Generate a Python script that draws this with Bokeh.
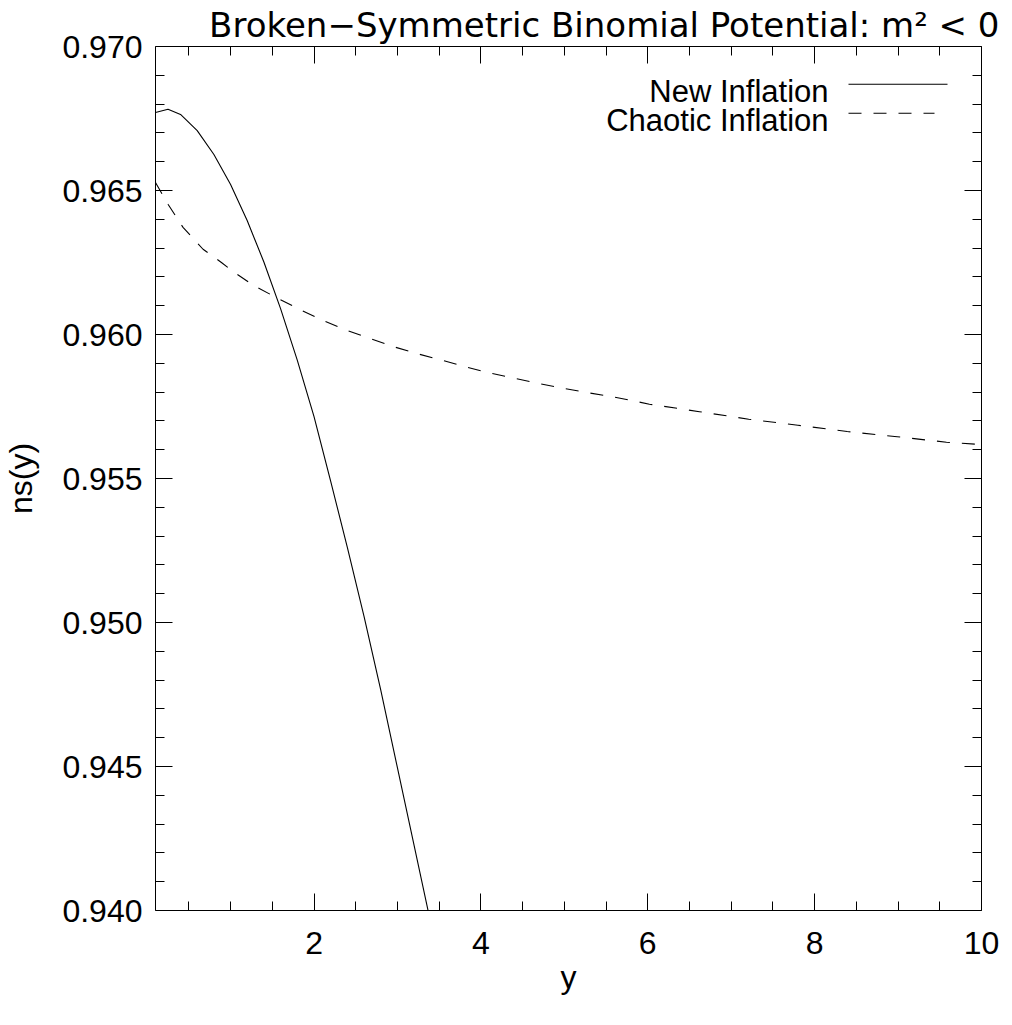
from bokeh.plotting import figure
from bokeh.models import (LinearAxis, FixedTicker, NumeralTickFormatter,
                          CustomJSTickFormatter, Label, Arrow, Range1d)
from bokeh.embed import file_html
from bokeh.resources import INLINE

# ---------------- data ----------------
new_y = [0.10, 0.25, 0.40, 0.60, 0.80, 1.00, 1.20, 1.40, 1.60, 1.80,
         2.00, 2.20, 2.40, 2.60, 2.80, 3.00, 3.20, 3.40, 3.50]
new_ns = [0.96771, 0.96782, 0.96764, 0.96708, 0.96625, 0.96521, 0.96395,
          0.96251, 0.96089, 0.95910, 0.95715, 0.95490, 0.95260, 0.95020,
          0.94765, 0.94495, 0.94225, 0.93955, 0.93820]

chaotic_y = [0.10, 0.25, 0.43, 0.67, 0.89, 1.02, 1.27, 1.55, 1.82, 2.10,
             2.38, 2.66, 2.95, 3.23, 3.53, 3.81, 4.11, 4.40, 4.69, 4.99,
             5.28, 5.57, 5.87, 6.02, 6.62, 7.21, 7.80, 8.39, 8.99, 9.58, 10.0]
chaotic_ns = [0.96528, 0.96452, 0.96372, 0.96296, 0.96250, 0.96221, 0.96171,
              0.96128, 0.96088, 0.96050, 0.96016, 0.95987, 0.95958, 0.95934,
              0.95911, 0.95888, 0.95866, 0.95848, 0.95830, 0.95813, 0.95798,
              0.95784, 0.95767, 0.95758, 0.95732, 0.95706, 0.95685, 0.95663,
              0.95645, 0.95626, 0.95618]

x_major_ticks = [2, 4, 6, 8, 10]
x_minor_ticks = [0.5, 1.0, 1.5, 2.5, 3.0, 3.5, 4.5, 5.0, 5.5, 6.5, 7.0, 7.5,
                 8.5, 9.0, 9.5]
y_major_ticks = [0.940, 0.945, 0.950, 0.955, 0.960, 0.965, 0.970]
y_minor_ticks = [0.941, 0.942, 0.943, 0.944, 0.946, 0.947, 0.948, 0.949,
                 0.951, 0.952, 0.953, 0.954, 0.956, 0.957, 0.958, 0.959,
                 0.961, 0.962, 0.963, 0.964, 0.966, 0.967, 0.968, 0.969]

title_text = "Broken\u2212Symmetric Binomial Potential: m\u00b2 < 0"
x_label = "y"
y_label = "ns(y)"
series_names = ["New Inflation", "Chaotic Inflation"]

FONT = "Liberation Sans"
TITLE_FONT = "DejaVu Sans"
FW, FH = 826, 864  # plot frame size in pixels

p = figure(frame_width=FW, frame_height=FH,
           x_range=Range1d(0.1, 10.0), y_range=Range1d(0.940, 0.970),
           output_backend="svg", toolbar_location=None,
           x_axis_label=x_label, y_axis_label=y_label,
           min_border_left=148, min_border_right=22,
           min_border_top=46, min_border_bottom=96)
p.grid.visible = False
p.outline_line_color = None
p.background_fill_color = "white"
p.border_fill_color = "white"

xt = FixedTicker(ticks=x_major_ticks, minor_ticks=x_minor_ticks)
yt = FixedTicker(ticks=y_major_ticks, minor_ticks=y_minor_ticks)


def style(ax):
    ax.major_tick_in = 17
    ax.major_tick_out = 0
    ax.minor_tick_in = 9
    ax.minor_tick_out = 0
    ax.axis_line_color = "black"
    ax.axis_line_width = 1
    ax.major_tick_line_color = "black"
    ax.minor_tick_line_color = "black"
    ax.major_label_text_font = FONT
    ax.major_label_text_font_size = "32px"
    ax.major_label_text_color = "black"
    ax.axis_label_text_font = FONT
    ax.axis_label_text_font_size = "32px"
    ax.axis_label_text_font_style = "normal"
    ax.axis_label_text_color = "black"


xa = p.xaxis[0]
xa.ticker = xt
xa.formatter = NumeralTickFormatter(format="0")
style(xa)
xa.major_label_standoff = 21
xa.axis_label_standoff = 2

ya = p.yaxis[0]
ya.ticker = yt
ya.formatter = NumeralTickFormatter(format="0.000")
style(ya)
ya.major_label_standoff = 13
ya.axis_label_standoff = 20

blank = CustomJSTickFormatter(code="return ''")
top = LinearAxis(ticker=xt, formatter=blank, major_label_standoff=0)
style(top)
top.major_label_text_font_size = "1px"
p.add_layout(top, "above")
right = LinearAxis(ticker=yt, formatter=blank, major_label_standoff=0)
style(right)
right.major_label_text_font_size = "1px"
p.add_layout(right, "right")

p.line(new_y, new_ns, line_color="black", line_width=1.1)
p.line(chaotic_y, chaotic_ns, line_color="black", line_width=1.1,
       line_dash="13 12")

# title, right-aligned, ending a little past the frame's right edge
p.title.text = title_text
p.title.align = "right"
p.title.offset = -18
p.title.standoff = 3
p.title.text_font = TITLE_FONT
p.title.text_font_size = "34px"
p.title.text_font_style = "normal"
p.title.text_color = "black"

# legend (text to the left of the sample line, as in the reference)
p.add_layout(Label(x=673, y=818.7, x_units="screen", y_units="screen",
                   text=series_names[0], text_align="right",
                   text_baseline="alphabetic", text_font=FONT,
                   text_font_size="31px", text_color="black"))
p.add_layout(Label(x=673, y=789.7, x_units="screen", y_units="screen",
                   text=series_names[1], text_align="right",
                   text_baseline="alphabetic", text_font=FONT,
                   text_font_size="31px", text_color="black"))
p.add_layout(Arrow(end=None, x_start=693, y_start=826.3, x_end=792,
                   y_end=826.3, start_units="screen", end_units="screen",
                   line_color="black", line_width=1.1))
p.add_layout(Arrow(end=None, x_start=693, y_start=797.3, x_end=779,
                   y_end=797.3, start_units="screen", end_units="screen",
                   line_color="black", line_width=1.1, line_dash="13 12"))

open("out.html", "w").write(file_html(p, INLINE))
